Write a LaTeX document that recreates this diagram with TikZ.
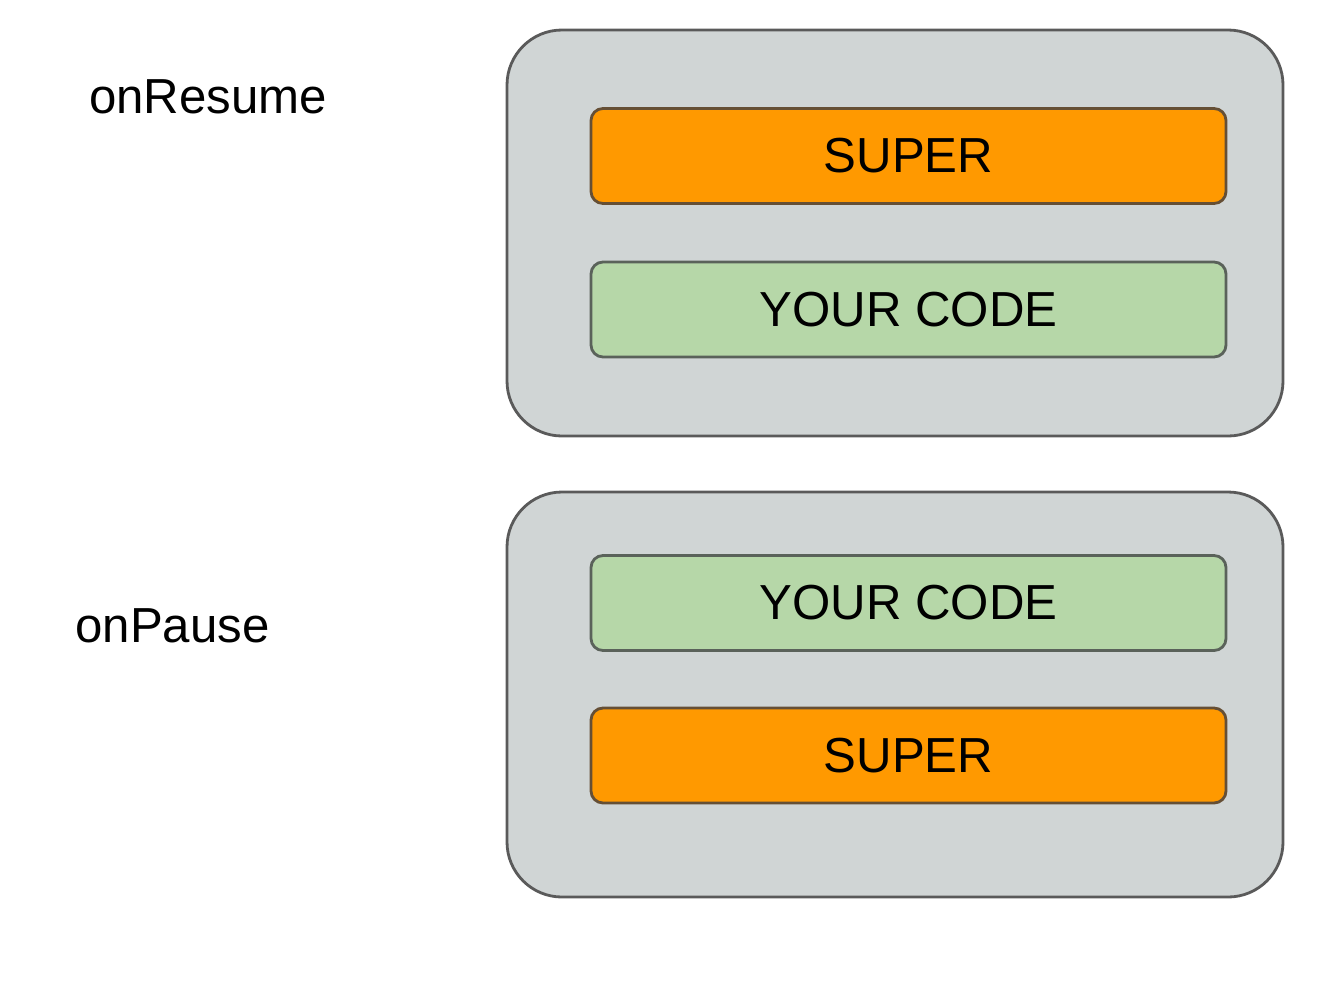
\documentclass[tikz,border=0pt]{standalone}
\usepackage{fontspec}
\setmainfont{Liberation Sans}
\definecolor{outerfill}{HTML}{D0D5D5}
\definecolor{outerline}{HTML}{5A5A5A}
\definecolor{superfill}{HTML}{FF9900}
\definecolor{superline}{HTML}{654F35}
\definecolor{codefill}{HTML}{B6D7A8}
\definecolor{codeline}{HTML}{5A625A}
\begin{document}
\begin{tikzpicture}[x=0.02cm,y=-0.02cm,
  outerbox/.style={draw=outerline,fill=outerfill,line width=1.6pt,rounded corners=1.1cm},
  innerbox/.style={line width=1.6pt,rounded corners=0.24cm,minimum width=635*0.02cm,minimum height=95*0.02cm,inner sep=0pt,font=\fontsize{28}{32}\selectfont},
  superbox/.style={innerbox,draw=superline,fill=superfill},
  codebox/.style={innerbox,draw=codeline,fill=codefill},
  label/.style={font=\fontsize{28}{32}\selectfont,inner sep=0pt}]
\useasboundingbox (0,0) rectangle (1344,988);
\draw[outerbox] (507,30) rectangle (1283,436);
\draw[outerbox] (507,492) rectangle (1283,897);
\node[superbox] (s1) at (908.5,156) {SUPER};
\node[codebox] (c1) at (908.5,309.5) {YOUR CODE};
\node[codebox] (c2) at (908.5,603) {YOUR CODE};
\node[superbox] (s2) at (908.5,755.5) {SUPER};
\node[label] (r) at (208,97) {onResume};
\node[label] (p) at (172.5,626) {onPause};
\end{tikzpicture}
\end{document}
